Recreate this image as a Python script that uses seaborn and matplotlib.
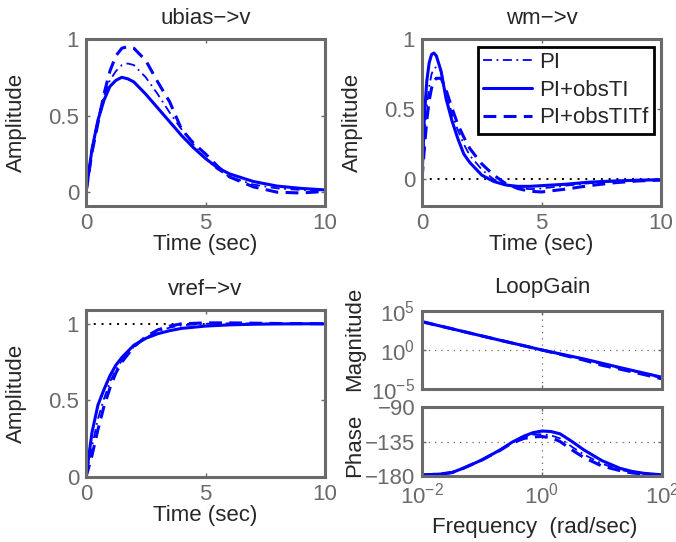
import numpy as np
import pandas as pd
import matplotlib
matplotlib.use("Agg")
import matplotlib.pyplot as plt
import seaborn as sns
from matplotlib.lines import Line2D

# ---------------- data ----------------
series_names = ["PI", "PI+obsTI", "PI+obsTITf"]

# ubias -> v
t_ubias = [0, 0.25, 0.5, 0.75, 1.0, 1.25, 1.5, 1.75, 2.0, 2.5, 3.0, 3.5, 4.0,
           4.5, 5.0, 5.5, 6.0, 7.0, 8.0, 9.0, 10.0]
ubias_pi = [0, 0.29, 0.48, 0.63, 0.73, 0.79, 0.83, 0.84, 0.83, 0.75, 0.64, 0.52,
            0.41, 0.31, 0.22, 0.15, 0.10, 0.05, 0.025, 0.015, 0.01]
ubias_obsti = [0, 0.28, 0.47, 0.60, 0.69, 0.73, 0.75, 0.74, 0.72, 0.64, 0.55,
               0.46, 0.37, 0.29, 0.22, 0.16, 0.12, 0.07, 0.04, 0.025, 0.015]
ubias_obstitf = [0, 0.26, 0.45, 0.64, 0.79, 0.89, 0.94, 0.95, 0.94, 0.86, 0.72,
                 0.59, 0.41, 0.32, 0.25, 0.17, 0.10, 0.035, 0.0, -0.005, 0.005]

# wm -> v
t_wm = [0, 0.1, 0.2, 0.3, 0.4, 0.5, 0.6, 0.8, 1.0, 1.25, 1.5, 1.75, 2.0, 2.5,
        3.0, 3.5, 4.0, 4.5, 5.0, 6.0, 7.0, 8.0, 9.0, 10.0]
wm_pi = [0, 0.30, 0.52, 0.66, 0.75, 0.79, 0.80, 0.77, 0.62, 0.47, 0.35, 0.25,
         0.17, 0.07, 0.0, -0.04, -0.06, -0.07, -0.065, -0.045, -0.028, -0.015,
         -0.008, -0.004]
wm_obsti = [0, 0.45, 0.70, 0.83, 0.89, 0.90, 0.88, 0.77, 0.58, 0.42, 0.29, 0.18,
            0.12, 0.03, -0.015, -0.04, -0.05, -0.05, -0.045, -0.035, -0.02,
            -0.012, -0.006, -0.003]
wm_obstitf = [0, 0.22, 0.42, 0.56, 0.65, 0.70, 0.72, 0.72, 0.64, 0.51, 0.39,
              0.30, 0.22, 0.11, 0.03, -0.03, -0.065, -0.085, -0.09, -0.07,
              -0.045, -0.025, -0.012, -0.005]

# vref -> v
t_vref = [0, 0.25, 0.5, 0.75, 1.0, 1.25, 1.5, 2.0, 2.5, 3.0, 3.5, 4.0, 5.0,
          6.0, 7.0, 8.0, 9.0, 10.0]
vref_pi = [0, 0.20, 0.38, 0.51, 0.62, 0.70, 0.76, 0.85, 0.91, 0.95, 0.975,
           0.99, 1.0, 1.003, 1.002, 1.0, 1.0, 1.0]
vref_obsti = [0, 0.29, 0.47, 0.57, 0.66, 0.73, 0.78, 0.86, 0.905, 0.935, 0.955,
              0.97, 0.985, 0.993, 0.997, 0.999, 1.0, 1.0]
vref_obstitf = [0, 0.14, 0.31, 0.46, 0.58, 0.68, 0.75, 0.85, 0.915, 0.96, 0.985,
                1.0, 1.006, 1.006, 1.004, 1.002, 1.001, 1.0]

# Loop gain magnitude
w_mag = [0.01, 0.02, 0.05, 0.1, 0.2, 0.5, 1, 2, 5, 10, 20, 50, 100]
mag_pi = [4266, 1202, 224, 63, 17.8, 3.5, 1.0, 0.30, 0.060, 0.015, 0.0045,
          0.00089, 0.00025]
mag_obsti = [4266, 1202, 224, 63, 17.8, 3.5, 1.0, 0.32, 0.071, 0.020, 0.0056,
             0.0011, 0.00032]
mag_obstitf = [4266, 1202, 224, 63, 17.8, 3.5, 1.0, 0.28, 0.050, 0.011, 0.0035,
               0.00071, 0.0002]

# Loop gain phase
w_ph = [0.01, 0.02, 0.0316, 0.05, 0.1, 0.2, 0.316, 0.5, 0.708, 1.0, 1.41, 2.0,
        3.16, 5.0, 10, 20, 31.6, 50, 100]
ph_pi = [-178.7, -177.5, -175.5, -169.5, -159, -146, -136.5, -129.5, -126,
         -125.5, -127, -131, -142, -152, -164, -172, -175, -177, -178.8]
ph_obsti = [-178.7, -177.5, -175.5, -169.5, -159, -146, -136, -128, -123.5,
            -121.3, -122, -125, -135, -146, -160, -170, -174, -176.5, -178.5]
ph_obstitf = [-178.7, -177.5, -175.5, -169.5, -159, -146.5, -137, -131, -129,
              -128.5, -130, -135, -146, -156, -167, -173, -176, -177.5, -179]

# ---------------- style ----------------
sns.set_style("white")
FONT = "Liberation Sans"
plt.rcParams["font.family"] = [FONT, "DejaVu Sans"]
plt.rcParams["mathtext.fontset"] = "custom"
plt.rcParams["mathtext.rm"] = FONT
plt.rcParams["mathtext.it"] = FONT
plt.rcParams["mathtext.default"] = "regular"

FS = 16
GRAY = "#6a6a6a"
BLUE = "#0000ff"
styles = {
    "PI": dict(linestyle=(0, (5, 2.5, 1, 2.5)), lw=1.3),
    "PI+obsTI": dict(linestyle="-", lw=2.2),
    "PI+obsTITf": dict(linestyle=(0, (4.2, 2.4)), lw=2.2),
}

W, H = 676, 542
fig = plt.figure(figsize=(W / 100, H / 100), dpi=100)


def rect(l, t, r, b):
    return [l / W, 1 - b / H, (r - l) / W, (b - t) / H]


def style_ax(ax):
    for s in ax.spines.values():
        s.set_visible(True)
        s.set_color(GRAY)
        s.set_linewidth(2.2)
    ax.tick_params(axis="both", which="major", direction="in", length=3,
                   width=1, color=GRAY, labelcolor=GRAY, labelsize=FS, pad=5,
                   top=True, right=True, bottom=True, left=True)
    ax.tick_params(which="minor", length=0)
    ax.set_facecolor("white")


def draw(ax, x, ys):
    for name, y in zip(series_names, ys):
        df = pd.DataFrame({"x": x, "y": y})
        sns.lineplot(data=df, x="x", y="y", ax=ax, color=BLUE,
                     estimator=None, sort=False, **styles[name])


ax1 = fig.add_axes(rect(86, 39, 325, 206))
ax2 = fig.add_axes(rect(422, 39, 661, 206))
ax3 = fig.add_axes(rect(86, 310, 325, 477))
ax4 = fig.add_axes(rect(422, 311, 662, 389))
ax5 = fig.add_axes(rect(422, 407, 662, 476))

# time responses
for ax, t, ys, title, ylim, yt, ref in [
    (ax1, t_ubias, [ubias_pi, ubias_obsti, ubias_obstitf], "ubias\u2212>v",
     (-0.09, 1.0), [0, 0.5, 1], None),
    (ax2, t_wm, [wm_pi, wm_obsti, wm_obstitf], "wm\u2212>v",
     (-0.19, 1.0), [0, 0.5, 1], 0.0),
    (ax3, t_vref, [vref_pi, vref_obsti, vref_obstitf], "vref\u2212>v",
     (0, 1.09), [0, 0.5, 1], 1.0),
]:
    if ref is not None:
        ax.axhline(ref, color="black", linestyle=(0, (1, 3)), lw=1.4, zorder=1)
    draw(ax, t, ys)
    style_ax(ax)
    ax.set_xlim(0, 10)
    ax.set_ylim(*ylim)
    ax.set_xticks([0, 5, 10])
    ax.set_xticklabels(["0", "5", "10"])
    ax.set_yticks(yt)
    ax.set_yticklabels(["0", "0.5", "1"])
    ax.set_title(title, fontsize=FS, pad=11)
    ax.set_xlabel("Time (sec)", fontsize=FS)
    ax.set_ylabel("Amplitude", fontsize=FS)
    ax.xaxis.set_label_coords(0.5, -0.17)
    ax.yaxis.set_label_coords(-0.245, 0.5)

# legend
handles = [Line2D([], [], color=BLUE, **styles[n]) for n in series_names]
leg = ax2.legend(handles, series_names, loc="upper right",
                 bbox_to_anchor=(0.97, 0.955), fontsize=FS, frameon=True,
                 fancybox=False, framealpha=1, edgecolor="black",
                 handlelength=2.2, handletextpad=0.3, labelspacing=0.3,
                 borderpad=0.25, borderaxespad=0)
leg.get_frame().set_linewidth(2.0)

# loop gain magnitude
draw(ax4, w_mag, [mag_pi, mag_obsti, mag_obstitf])
ax4.set_xscale("log")
ax4.set_yscale("log")
style_ax(ax4)
ax4.set_xlim(1e-2, 1e2)
ax4.set_ylim(1e-5, 1e5)
ax4.set_xticks([1e-2, 1e0, 1e2])
ax4.set_yticks([1e-5, 1e0, 1e5])
ax4.tick_params(labelbottom=False)
ax4.grid(True, which="major", color=GRAY, linestyle=(0, (1, 4)), lw=0.9)
ax4.set_xlabel("")
ax4.set_ylabel("Magnitude", fontsize=FS)
ax4.yaxis.set_label_coords(-0.235, 0.64)
ax4.set_title("LoopGain", fontsize=FS, pad=13)

# loop gain phase
draw(ax5, w_ph, [ph_pi, ph_obsti, ph_obstitf])
ax5.set_xscale("log")
style_ax(ax5)
ax5.set_xlim(1e-2, 1e2)
ax5.set_ylim(-180, -90)
ax5.set_xticks([1e-2, 1e0, 1e2])
ax5.set_yticks([-180, -135, -90])
ax5.grid(True, which="major", color=GRAY, linestyle=(0, (1, 4)), lw=0.9)
ax5.set_ylabel("Phase", fontsize=FS)
ax5.yaxis.set_label_coords(-0.235, 0.45)
ax5.set_xlabel("Frequency  (rad/sec)", fontsize=FS)
ax5.xaxis.set_label_coords(0.47, -0.6)

fig.savefig("out.png", dpi=100, facecolor="white")
